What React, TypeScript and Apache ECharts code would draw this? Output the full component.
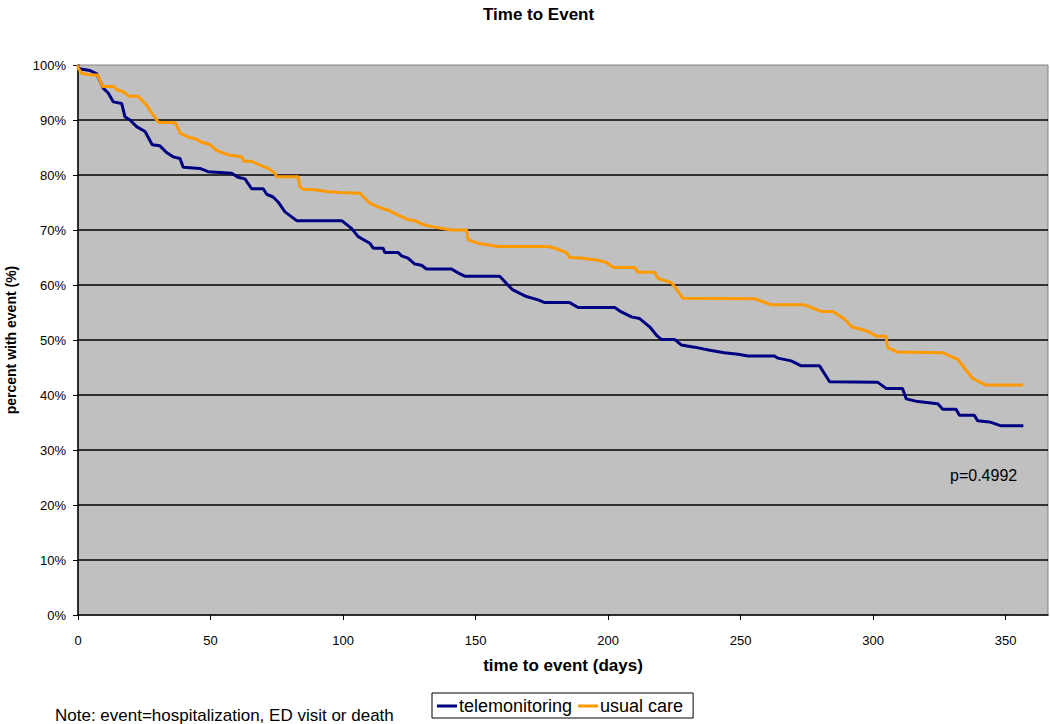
import React, { useEffect, useRef } from "react";
import * as echarts from "echarts";

const FONT = "'Liberation Sans', Arial, Helvetica, sans-serif";

const chartTitle = "Time to Event";
const xAxisTitle = "time to event (days)";
const yAxisTitle = "percent with event (%)";
const noteText = "Note: event=hospitalization, ED visit or death";
const pValueText = "p=0.4992";
const seriesNames = ["telemonitoring", "usual care"];

const telemonDays = [
  0, 0.4, 4.5, 7.1, 9.5, 11.4, 13.3, 16.5, 17.7, 19.6, 22.1, 25.3, 28.0, 30.9, 33.4, 35.9, 38.5, 39.7,
  46.0, 49.1, 58.0, 60.3, 63.0, 65.5, 69.9, 71.2, 73.6, 75.5, 78.1, 82.5, 99.5, 103.2, 105.7, 110.1,
  111.4, 115.1, 115.8, 120.8, 122.1, 124.5, 127.1, 129.6, 131.5, 140.9, 143.4, 145.9, 159.1, 161.6,
  164.1, 169.2, 173.6, 176.1, 185.5, 188.7, 202.5, 205.0, 208.8, 211.9, 215.7, 218.2, 220.1, 225.1,
  227.6, 232.6, 238.9, 243.9, 249.0, 252.8, 262.8, 264.1, 269.1, 272.9, 279.8, 283.6, 301.8, 304.9,
  311.1, 312.5, 316.9, 324.4, 326.3, 331.3, 332.6, 338.2, 339.5, 343.9, 348.3, 356.7,
];
const telemonPct = [
  100, 99.3, 99.0, 98.4, 95.8, 94.9, 93.3, 93.0, 90.6, 90.0, 88.8, 87.9, 85.5, 85.3, 84.1, 83.3, 83.0, 81.4,
  81.2, 80.6, 80.3, 79.6, 79.3, 77.5, 77.5, 76.5, 76.0, 75.1, 73.3, 71.7, 71.7, 70.3, 68.8, 67.6,
  66.7, 66.7, 65.9, 65.9, 65.3, 64.9, 63.8, 63.6, 62.9, 62.9, 62.2, 61.6, 61.6, 60.3,
  59.1, 57.9, 57.3, 56.8, 56.8, 55.9, 55.9, 55.1, 54.2, 53.9, 52.4, 50.9, 50.1, 50.1,
  49.1, 48.7, 48.1, 47.7, 47.4, 47.1, 47.1, 46.7, 46.2, 45.3, 45.3, 42.4, 42.3, 41.2,
  41.2, 39.3, 38.8, 38.4, 37.4, 37.4, 36.3, 36.3, 35.3, 35.1, 34.4, 34.4,
];

const usualDays = [
  0, 0.1, 1.4, 4.5, 7.4, 9.2, 13.3, 14.7, 17.3, 19.2, 22.7, 25.9, 27.1, 30.3, 36.8, 38.5, 41.6, 44.8,
  46.0, 49.8, 52.3, 53.5, 57.3, 61.7, 62.6, 65.5, 68.6, 71.8, 74.3, 74.9, 83.1, 83.7, 85.0, 89.4,
  93.8, 98.8, 106.3, 110.1, 113.2, 117.0, 120.8, 124.5, 127.1, 129.6, 132.7, 137.1, 140.9, 146.6,
  147.2, 150.9, 158.5, 177.6, 181.1, 184.3, 185.5, 189.9, 193.1, 196.2, 199.4, 201.9, 210.0, 211.3,
  217.6, 218.8, 224.0, 225.1, 228.2, 255.3, 261.6, 274.1, 280.4, 284.8, 289.2, 291.9, 297.9, 301.3,
  304.9, 305.5, 309.3, 326.3, 328.8, 331.9, 335.1, 337.6, 342.6, 356.7,
];
const usualPct = [
  100, 99.4, 98.5, 98.2, 98.2, 96.1, 96.1, 95.5, 95.1, 94.3, 94.3, 92.7, 91.8, 89.6, 89.5, 87.6, 86.9, 86.5,
  86.1, 85.5, 84.5, 84.2, 83.6, 83.3, 82.5, 82.5, 81.8, 81.2, 80.3, 79.7, 79.7, 77.8, 77.4, 77.3,
  77.0, 76.8, 76.7, 74.9, 74.2, 73.6, 72.7, 71.9, 71.7, 71.1, 70.7, 70.3, 70.0, 70.0,
  68.2, 67.6, 67.0, 67.0, 66.5, 65.9, 65.0, 64.9, 64.7, 64.5, 64.1, 63.2, 63.2, 62.3,
  62.3, 61.2, 60.4, 59.7, 57.6, 57.5, 56.4, 56.4, 55.2, 55.2, 53.8, 52.4, 51.6, 50.7,
  50.7, 48.6, 47.8, 47.7, 47.1, 46.5, 44.5, 43.0, 41.8, 41.8,
];

const xMin = 0;
const xMax = 366;
const xInterval = 50;
const yMin = 0;
const yMax = 100;
const yInterval = 10;

const pairs = (xs: number[], ys: number[]) => xs.map((x, i) => [x, ys[i]]);

export default function App() {
  const ref = useRef<HTMLDivElement>(null);

  useEffect(() => {
    if (!ref.current) return;
    const chart = echarts.init(ref.current, undefined, { renderer: "svg" });
    chart.setOption({
      animation: false,
      backgroundColor: "#ffffff",
      textStyle: { fontFamily: FONT },
      title: {
        text: chartTitle,
        left: 478,
        top: 1,
        textStyle: { fontFamily: FONT, fontSize: 17, fontWeight: "bold", color: "#000" },
      },
      grid: {
        left: 78,
        right: 2,
        top: 65,
        bottom: 109,
        containLabel: false,
        outerBoundsMode: "none",
        show: true,
        backgroundColor: "#C0C0C0",
        borderColor: "#808080",
        borderWidth: 1,
      },
      legend: {
        left: 432,
        top: 693,
        data: seriesNames,
        orient: "horizontal",
        icon: "rect",
        borderColor: "#000",
        borderWidth: 1,
        padding: [4, 10, 3, 5],
        itemGap: 6,
        itemWidth: 20,
        itemHeight: 3,
        textStyle: { fontFamily: FONT, fontSize: 18, color: "#000", padding: [0, 0, 0, -3] },
      },
      xAxis: {
        type: "value",
        min: xMin,
        max: xMax,
        interval: xInterval,
        name: xAxisTitle,
        nameLocation: "middle",
        nameGap: 42,
        nameTextStyle: { fontFamily: FONT, fontSize: 17, fontWeight: "bold", color: "#000" },
        axisLine: { show: true, onZero: false, lineStyle: { color: "#000", width: 1.5 } },
        axisTick: { show: true, inside: false, length: 5, lineStyle: { color: "#000" } },
        axisLabel: { margin: 19, fontFamily: FONT, fontSize: 13, color: "#000", showMaxLabel: false },
        splitLine: { show: false },
      },
      yAxis: {
        type: "value",
        min: yMin,
        max: yMax,
        interval: yInterval,
        name: yAxisTitle,
        nameLocation: "middle",
        nameRotate: 90,
        nameGap: 60,
        nameTextStyle: { fontFamily: FONT, fontSize: 14, fontWeight: "bold", color: "#000" },
        axisLine: { show: true, onZero: false, lineStyle: { color: "#000", width: 1.5 } },
        axisTick: { show: true, inside: false, length: 5, lineStyle: { color: "#000" } },
        axisLabel: { margin: 12, fontFamily: FONT, fontSize: 13, color: "#000", formatter: "{value}%" },
        splitLine: {
          show: true,
          showMinLine: false,
          showMaxLine: false,
          lineStyle: { color: "#000", width: 1.5 },
        },
      },
      graphic: [
        {
          type: "text",
          left: 55,
          top: 707,
          style: { text: noteText, fontFamily: FONT, fontSize: 17, fill: "#000" },
        },
        {
          type: "text",
          left: 950,
          top: 467,
          style: { text: pValueText, fontFamily: FONT, fontSize: 16, fill: "#000" },
        },
      ],
      series: [
        {
          name: seriesNames[0],
          type: "line",
          data: pairs(telemonDays, telemonPct),
          symbol: "none",
          lineStyle: { color: "#000080", width: 3 },
          itemStyle: { color: "#000080" },
          z: 3,
        },
        {
          name: seriesNames[1],
          type: "line",
          data: pairs(usualDays, usualPct),
          symbol: "none",
          lineStyle: { color: "#FF9900", width: 3 },
          itemStyle: { color: "#FF9900" },
          z: 4,
        },
      ],
    });
    return () => chart.dispose();
  }, []);

  return (
    <div
      ref={ref}
      style={{ position: "absolute", left: 0, top: 0, width: 1050, height: 724 }}
    />
  );
}
